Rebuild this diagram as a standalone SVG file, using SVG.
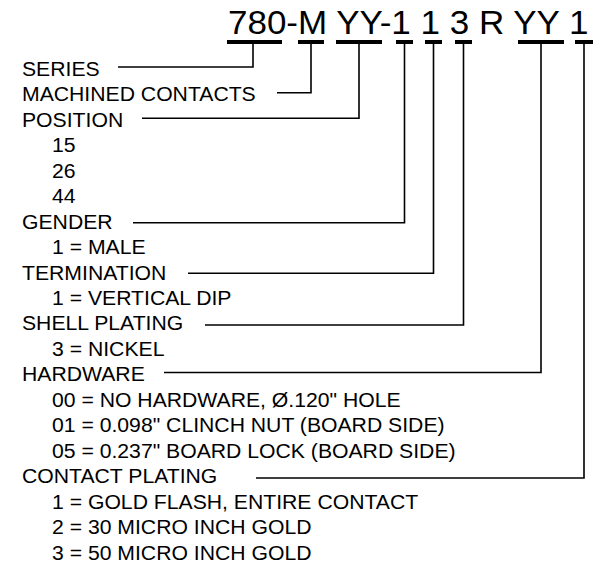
<svg xmlns="http://www.w3.org/2000/svg" width="604" height="564" viewBox="0 0 604 564">
<style>
.t{font-family:"Liberation Sans",Arial,sans-serif;font-size:21.2px;fill:#000}
.title{font-family:"Liberation Sans",Arial,sans-serif;font-size:35px;fill:#000}
.bar{stroke:#000;stroke-width:4;fill:none}
.ln{stroke:#000;stroke-width:1.6;fill:none}
</style>
<rect width="604" height="564" fill="#fff"/>
<g id="labels" transform="scale(1,0.95)">
<text id="title" class="title" x="228" y="35.3">780-M YY-1 1 3 R YY 1</text>
<g id="series"><text class="t" x="22" y="80">SERIES</text></g>
<g id="machined"><text class="t" x="22" y="106.79">MACHINED CONTACTS</text></g>
<g id="position"><text class="t" x="22" y="133.58">POSITION</text>
<text class="t" x="52" y="160.37">15</text>
<text class="t" x="52" y="187.16">26</text>
<text class="t" x="52" y="213.95">44</text></g>
<g id="gender"><text class="t" x="22" y="240.74">GENDER</text>
<text class="t" x="52" y="267.53">1 = MALE</text></g>
<g id="termination"><text class="t" x="22" y="294.32">TERMINATION</text>
<text class="t" x="52" y="321.11">1 = VERTICAL DIP</text></g>
<g id="shell"><text class="t" x="22" y="347.89">SHELL PLATING</text>
<text class="t" x="52" y="374.68">3 = NICKEL</text></g>
<g id="hardware"><text class="t" x="22" y="401.47">HARDWARE</text>
<text class="t" x="52" y="428.26">00 = NO HARDWARE, Ø.120" HOLE</text>
<text class="t" x="52" y="455.05">01 = 0.098" CLINCH NUT (BOARD SIDE)</text>
<text class="t" x="52" y="481.84">05 = 0.237" BOARD LOCK (BOARD SIDE)</text></g>
<g id="contact"><text class="t" x="22" y="508.63">CONTACT PLATING</text>
<text class="t" x="52" y="535.42">1 = GOLD FLASH, ENTIRE CONTACT</text>
<text class="t" x="52" y="562.21">2 = 30 MICRO INCH GOLD</text>
<text class="t" x="52" y="589">3 = 50 MICRO INCH GOLD</text></g>
</g>
<g id="bars">
<line class="bar" x1="227" y1="42" x2="282" y2="42"/>
<line class="bar" x1="298" y1="42" x2="324" y2="42"/>
<line class="bar" x1="336" y1="42" x2="382" y2="42"/>
<line class="bar" x1="396" y1="42" x2="413" y2="42"/>
<line class="bar" x1="425" y1="42" x2="442" y2="42"/>
<line class="bar" x1="455" y1="42" x2="472" y2="42"/>
<line class="bar" x1="518" y1="42" x2="564" y2="42"/>
<line class="bar" x1="575" y1="42" x2="593" y2="42"/>
</g>
<g id="connectors">
<path class="ln" d="M253,42 V67 H118"/>
<path class="ln" d="M311,42 V92.7 H277"/>
<path class="ln" d="M359,42 V118.3 H142"/>
<path class="ln" d="M404.5,42 V222.7 H133"/>
<path class="ln" d="M433.5,42 V273.3 H188"/>
<path class="ln" d="M463.5,42 V325 H205"/>
<path class="ln" d="M541,42 V372.5 H164"/>
<path class="ln" d="M584,42 V478 H256"/>
</g>
</svg>
